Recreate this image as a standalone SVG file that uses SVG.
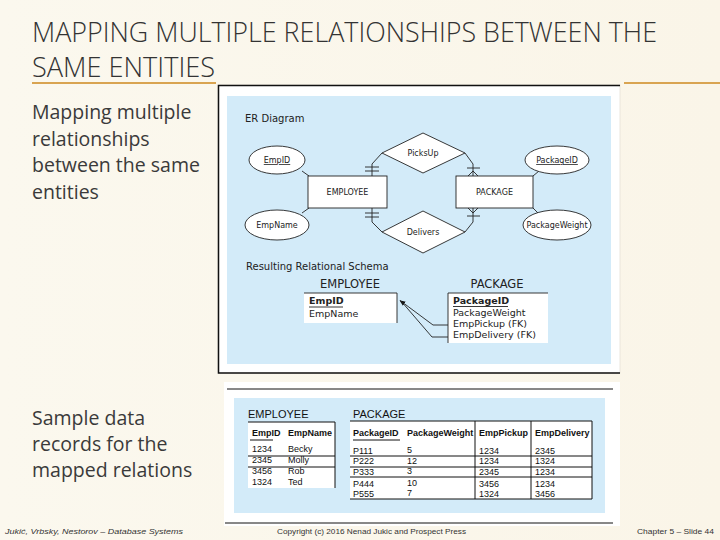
<svg xmlns="http://www.w3.org/2000/svg" width="720" height="540" viewBox="0 0 720 540">
<defs>
<marker id="arr" viewBox="0 0 10 10" refX="9" refY="5" markerWidth="6" markerHeight="6" orient="auto-start-reverse" markerUnits="userSpaceOnUse">
<path d="M0,1 L10,5 L0,9 Z" fill="#111"/>
</marker>
<linearGradient id="bg" x1="0" y1="0" x2="1" y2="0">
<stop offset="0" stop-color="#FBF8EE"/>
<stop offset="1" stop-color="#FAF5E8"/>
</linearGradient>
</defs>
<style>
.title{font-family:"Open Sans","Liberation Sans",sans-serif;font-weight:300;font-size:27px;fill:#333}
.side{font-family:"Open Sans","Liberation Sans",sans-serif;font-size:19.5px;fill:#3a3a3a}
.foot{font-family:"Liberation Sans",sans-serif;font-size:8px;fill:#333}
.er{font-family:"DejaVu Sans",sans-serif;font-size:8px;fill:#222}
.erl{font-family:"DejaVu Sans",sans-serif;font-size:10px;fill:#222}
.rs{font-family:"DejaVu Sans",sans-serif;font-size:9.5px;fill:#222}
.rsh{font-family:"DejaVu Sans",sans-serif;font-size:11.5px;fill:#222}
.b{font-weight:bold}
.tb{font-family:"Liberation Sans",sans-serif;font-size:9px;fill:#111}
.tbh{font-family:"Liberation Sans",sans-serif;font-size:11px;fill:#111}
.shape{fill:#fff;stroke:#222;stroke-width:0.9}
.ln{stroke:#222;stroke-width:0.9;fill:none}
.fr{stroke:#111;stroke-width:1.5;fill:none}
.blue{fill:#D3EBF9}
.tl{stroke:#111;stroke-width:1}
</style>
<rect width="720" height="540" fill="url(#bg)"/>

<!-- Title -->
<g id="title">
<text class="title" x="32" y="42" textLength="625" lengthAdjust="spacingAndGlyphs">MAPPING MULTIPLE RELATIONSHIPS BETWEEN THE</text>
<text class="title" x="32" y="77" textLength="183" lengthAdjust="spacingAndGlyphs">SAME ENTITIES</text>
<line x1="32" y1="83" x2="216" y2="83" stroke="#D9A451" stroke-width="2"/>
<line x1="624" y1="83" x2="720" y2="83" stroke="#D9A451" stroke-width="2"/>
</g>

<g id="side-text">
<text class="side" x="32" y="119">Mapping multiple</text>
<text class="side" x="32" y="145.5">relationships</text>
<text class="side" x="32" y="172">between the same</text>
<text class="side" x="32" y="198.5">entities</text>
<text class="side" x="32" y="425">Sample data</text>
<text class="side" x="32" y="451">records for the</text>
<text class="side" x="32" y="477">mapped relations</text>
</g>

<!-- Upper figure frame -->
<g id="er-frame">
<rect x="218" y="85" width="402" height="288" fill="#fff" stroke="#e6e2d8" stroke-width="0.8"/>
<polyline class="fr" points="620,85.5 218.5,85.5 218.5,373 620,373"/>
<rect class="blue" x="227" y="96" width="384" height="268"/>
<text class="erl" x="245" y="122">ER Diagram</text>
<text class="erl" x="246" y="270">Resulting Relational Schema</text>
</g>

<!-- ER connectors -->
<g id="er-connectors">
<line class="ln" x1="302" y1="171" x2="309" y2="176"/>
<line class="ln" x1="302" y1="213" x2="309" y2="208"/>
<line class="ln" x1="539" y1="171" x2="533" y2="176"/>
<line class="ln" x1="538" y1="213" x2="533" y2="208"/>
<polyline class="ln" points="372,176 372,164 382,153"/>
<line class="ln" x1="365" y1="167" x2="379" y2="167"/>
<line class="ln" x1="365" y1="171" x2="379" y2="171"/>
<polyline class="ln" points="372,208 372,222 382,232"/>
<line class="ln" x1="365" y1="213" x2="379" y2="213"/>
<line class="ln" x1="365" y1="217" x2="379" y2="217"/>
<polyline class="ln" points="473,176 473,164 465,153"/>
<line class="ln" x1="467" y1="168" x2="480" y2="168"/>
<path class="ln" d="M468,176 L473,171 L478,176"/>
<polyline class="ln" points="473,208 473,222 465,232"/>
<line class="ln" x1="467" y1="216" x2="480" y2="216"/>
<path class="ln" d="M468,208 L473,213 L478,208"/>
</g>

<g id="EMPLOYEE">
<rect class="shape" x="308" y="176" width="79" height="32"/>
<text class="er" x="347.5" y="195" text-anchor="middle">EMPLOYEE</text>
</g>
<g id="PACKAGE">
<rect class="shape" x="456" y="176" width="77" height="32"/>
<text class="er" x="494.5" y="195" text-anchor="middle">PACKAGE</text>
</g>
<g id="EmpID">
<ellipse class="shape" cx="277" cy="160" rx="28" ry="14"/>
<text class="er" x="277" y="163" text-anchor="middle" text-decoration="underline">EmpID</text>
</g>
<g id="EmpName">
<ellipse class="shape" cx="277" cy="225" rx="32" ry="15"/>
<text class="er" x="277" y="228" text-anchor="middle">EmpName</text>
</g>
<g id="PackageID">
<ellipse class="shape" cx="557" cy="160" rx="32" ry="14"/>
<text class="er" x="557" y="163" text-anchor="middle" text-decoration="underline">PackageID</text>
</g>
<g id="PackageWeight">
<ellipse class="shape" cx="557" cy="225" rx="34" ry="15"/>
<text class="er" x="557" y="228" text-anchor="middle" font-size="7.5">PackageWeight</text>
</g>
<g id="PicksUp">
<polygon class="shape" points="382,153 423,133 465,153 423,173"/>
<text class="er" x="423" y="156" text-anchor="middle">PicksUp</text>
</g>
<g id="Delivers">
<polygon class="shape" points="382,232 423,211 465,232 423,253"/>
<text class="er" x="423" y="235" text-anchor="middle">Delivers</text>
</g>

<!-- Relational schema -->
<g id="rel-EMPLOYEE">
<text class="rsh" x="350" y="288" text-anchor="middle">EMPLOYEE</text>
<rect x="304" y="293" width="93" height="30" fill="#fff"/>
<polyline class="ln" points="304,293 397,293 397,323"/>
<text class="rs b" x="309" y="304">EmpID</text>
<line class="ln" x1="309" y1="307" x2="343" y2="307"/>
<text class="rs" x="309" y="317">EmpName</text>
</g>
<g id="rel-PACKAGE">
<text class="rsh" x="497" y="288" text-anchor="middle">PACKAGE</text>
<rect x="448" y="293" width="100" height="50" fill="#fff"/>
<polyline class="ln" points="448,343 448,293 548,293"/>
<text class="rs b" x="453" y="304">PackageID</text>
<line class="ln" x1="453" y1="306.5" x2="508" y2="306.5"/>
<text class="rs" x="453" y="315.5">PackageWeight</text>
<text class="rs" x="453" y="326.5">EmpPickup (FK)</text>
<text class="rs" x="453" y="337.5">EmpDelivery (FK)</text>
</g>
<g id="rel-connectors">
<path class="ln" d="M448,325 H433 L400,300.5" marker-end="url(#arr)"/>
<path class="ln" d="M448,337 H432 L401,301"/>
</g>

<!-- Sample data frame -->
<g id="data-frame">
<rect x="224" y="382" width="396" height="144" fill="#fff"/>
<line class="tl" x1="227" y1="389" x2="613" y2="389" stroke-width="1.3"/>
<line class="tl" x1="225" y1="523" x2="613" y2="523" stroke-width="1.3"/>
<rect class="blue" x="234" y="398" width="371" height="115"/>
</g>

<g id="data-EMPLOYEE">
<text class="tbh" x="248" y="418">EMPLOYEE</text>
<rect x="248" y="422" width="87" height="66" fill="#fff"/>
<polyline class="tl" points="248,422 335,422 335,488" fill="none"/>
<text class="tb b" x="252" y="436">EmpID</text>
<line class="tl" x1="250" y1="440" x2="273" y2="440"/>
<text class="tb b" x="288" y="436">EmpName</text>
<text class="tb" x="252" y="452">1234</text><text class="tb" x="288" y="452">Becky</text>
<line class="tl" x1="248" y1="456" x2="335" y2="456"/>
<text class="tb" x="252" y="463">2345</text><text class="tb" x="288" y="463">Molly</text>
<line class="tl" x1="248" y1="467" x2="335" y2="467"/>
<text class="tb" x="252" y="474">3456</text><text class="tb" x="288" y="474">Rob</text>
<text class="tb" x="252" y="485">1324</text><text class="tb" x="288" y="485">Ted</text>
</g>

<g id="data-PACKAGE">
<text class="tbh" x="353" y="418">PACKAGE</text>
<rect x="350" y="421" width="242" height="78" fill="#fff"/>
<line class="tl" x1="350" y1="421" x2="592" y2="421"/>
<line class="tl" x1="350" y1="499" x2="592" y2="499"/>
<line class="tl" x1="475" y1="421" x2="475" y2="499"/>
<line class="tl" x1="531" y1="421" x2="531" y2="499"/>
<line class="tl" x1="592" y1="421" x2="592" y2="499"/>
<text class="tb b" x="353" y="436">PackageID</text>
<line class="tl" x1="353" y1="440" x2="400" y2="440"/>
<text class="tb b" x="407" y="436">PackageWeight</text>
<text class="tb b" x="479" y="436">EmpPickup</text>
<text class="tb b" x="535" y="436">EmpDelivery</text>
<text class="tb" x="353" y="454">P111</text><text class="tb" x="407" y="453">5</text><text class="tb" x="479" y="454">1234</text><text class="tb" x="535" y="454">2345</text>
<line class="tl" x1="350" y1="456" x2="592" y2="456"/>
<text class="tb" x="353" y="464">P222</text><text class="tb" x="407" y="464">12</text><text class="tb" x="479" y="464">1234</text><text class="tb" x="535" y="464">1324</text>
<line class="tl" x1="350" y1="467" x2="592" y2="467"/>
<text class="tb" x="353" y="475">P333</text><text class="tb" x="407" y="474">3</text><text class="tb" x="479" y="475">2345</text><text class="tb" x="535" y="475">1234</text>
<line class="tl" x1="350" y1="477" x2="592" y2="477"/>
<text class="tb" x="353" y="487">P444</text><text class="tb" x="407" y="486">10</text><text class="tb" x="479" y="487">3456</text><text class="tb" x="535" y="487">1234</text>
<text class="tb" x="353" y="497">P555</text><text class="tb" x="407" y="496">7</text><text class="tb" x="479" y="497">1324</text><text class="tb" x="535" y="497">3456</text>
</g>

<g id="footer">
<text class="foot" x="5" y="534" font-style="italic" textLength="178" lengthAdjust="spacingAndGlyphs">Jukić, Vrbsky, Nestorov – Database Systems</text>
<text class="foot" x="277" y="534" textLength="189" lengthAdjust="spacingAndGlyphs">Copyright (c) 2016 Nenad Jukic and Prospect Press</text>
<text class="foot" x="637" y="534" textLength="77" lengthAdjust="spacingAndGlyphs">Chapter 5 – Slide 44</text>
</g>
</svg>
